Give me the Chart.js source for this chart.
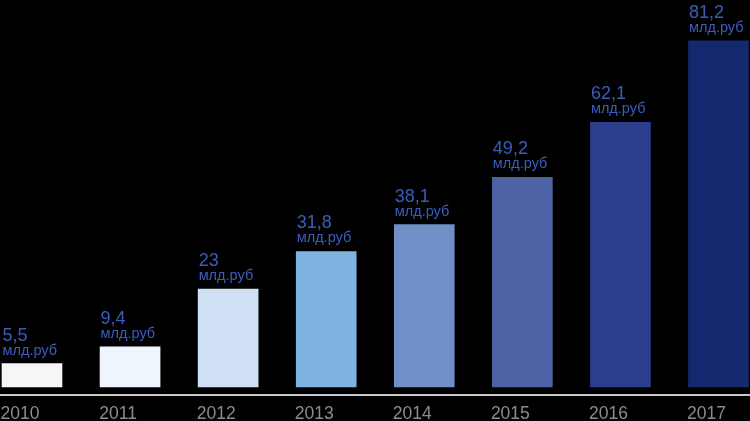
<!DOCTYPE html>
<html>
<head>
<meta charset="utf-8">
<script src="https://cdn.jsdelivr.net/npm/chart.js@4/dist/chart.umd.min.js"></script>
<style>
  html, body { margin: 0; padding: 0; background: #000; }
  #wrap { width: 750px; height: 421px; }
</style>
</head>
<body>
<div id="wrap"><canvas id="c" width="750" height="421"></canvas></div>
<script>
const years = ['2010', '2011', '2012', '2013', '2014', '2015', '2016', '2017'];
const values = [5.5, 9.4, 23, 31.8, 38.1, 49.2, 62.1, 81.2];
const unitLabel = 'млд.руб';
const barColors = ['#f6f6f6', '#eef5fd', '#cfe0f4', '#7db2e1', '#6f8fc6', '#4e62a6', '#2c3f8f', '#14296d'];

const FONT = "'Liberation Sans', Arial, sans-serif";

const bgPlugin = {
  id: 'bg',
  beforeDraw(chart) {
    const ctx = chart.ctx;
    ctx.save();
    ctx.fillStyle = '#000';
    ctx.fillRect(0, 0, chart.width, chart.height);
    ctx.restore();
  }
};

const axisLinePlugin = {
  id: 'axisLine',
  afterDraw(chart) {
    const ctx = chart.ctx;
    const y = chart.chartArea.bottom + 8;
    ctx.save();
    ctx.strokeStyle = '#c8c8c8';
    ctx.lineWidth = 2;
    ctx.beginPath();
    ctx.moveTo(0, y);
    ctx.lineTo(chart.width, y);
    ctx.stroke();
    ctx.restore();
  }
};

const valueLabelPlugin = {
  id: 'valueLabels',
  afterDatasetsDraw(chart) {
    const ctx = chart.ctx;
    const meta = chart.getDatasetMeta(0);
    ctx.save();
    ctx.fillStyle = '#3c5cbc';
    ctx.textAlign = 'left';
    ctx.textBaseline = 'alphabetic';
    meta.data.forEach((bar, i) => {
      const left = bar.x - bar.width / 2 + 0.5;
      const top = bar.y;
      ctx.font = '18px ' + FONT;
      ctx.fillText(String(values[i]).replace('.', ','), left, top - 23);
      ctx.font = '14.5px ' + FONT;
      ctx.fillText(unitLabel, left, top - 9);
    });
    ctx.restore();
  }
};

new Chart(document.getElementById('c'), {
  type: 'bar',
  data: {
    labels: years,
    datasets: [{
      data: values,
      backgroundColor: barColors,
      borderWidth: 0,
      barThickness: 60,
      clip: false
    }]
  },
  options: {
    responsive: false,
    animation: false,
    devicePixelRatio: 1,
    layout: { padding: { left: 32, right: 31.5, top: 0, bottom: 0 } },
    plugins: {
      legend: { display: false },
      tooltip: { enabled: false },
      title: { display: false }
    },
    scales: {
      x: {
        type: 'category',
        offset: false,
        grid: { display: false, drawTicks: false },
        border: { display: false },
        ticks: {
          color: '#8c8c8c',
          font: { family: FONT, size: 17.5, lineHeight: 0.8 },
          padding: 20,
          labelOffset: -12,
          maxRotation: 0,
          autoSkip: false
        },
        afterFit(scale) {
          scale.height = 34;
          scale.paddingLeft = 0;
          scale.paddingRight = 0;
        }
      },
      y: {
        display: false,
        min: 0,
        max: 90.8
      }
    }
  },
  plugins: [bgPlugin, axisLinePlugin, valueLabelPlugin]
});
</script>
</body>
</html>
